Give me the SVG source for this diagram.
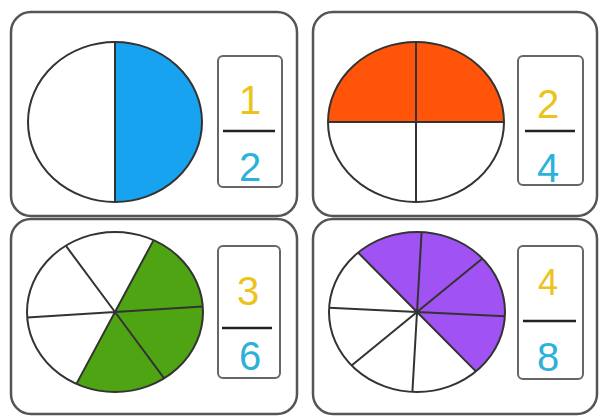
<svg xmlns="http://www.w3.org/2000/svg" width="600" height="416" viewBox="0 0 600 416">
<style>
.panel{fill:#fff;stroke:#555;stroke-width:2.5}
.box{fill:#fff;stroke:#666;stroke-width:2}
.edge{fill:none;stroke:#333;stroke-width:2}
.spoke{stroke:#333;stroke-width:2;fill:none}
.bar{stroke:#222;stroke-width:2.5}
.num{font-family:"Liberation Sans",Arial,sans-serif;font-size:40px;fill:#ecc21c;text-anchor:middle}
.den{font-family:"Liberation Sans",Arial,sans-serif;font-size:40px;fill:#2cb2da;text-anchor:middle}
</style>
<rect width="600" height="416" fill="#fff"/>

<g id="half">
<rect class="panel" x="11" y="12" width="286" height="204" rx="20"/>
<ellipse cx="115" cy="122" rx="87" ry="80" fill="#fff" stroke="none"/>
<path d="M115 42 A87 80 0 0 1 115 202 Z" fill="#17a3f0"/>
<ellipse class="edge" cx="115" cy="122" rx="87" ry="80"/>
<line class="spoke" x1="115" y1="42" x2="115" y2="202" stroke="#1c3f6e"/>
<rect class="box" x="218" y="56" width="64" height="131" rx="5"/>
<line class="bar" x1="223" y1="131" x2="275" y2="131"/>
<text class="num" x="250" y="114">1</text>
<text class="den" x="250" y="181">2</text>
</g>

<g id="quarters">
<rect class="panel" x="313" y="12" width="284" height="204" rx="20"/>
<path d="M328 122 A88 80 0 0 1 504 122 Z" fill="#ff540a"/>
<ellipse class="edge" cx="416" cy="122" rx="88" ry="80"/>
<line class="spoke" x1="328" y1="122" x2="504" y2="122"/>
<line class="spoke" x1="416" y1="42" x2="416" y2="202"/>
<rect class="box" x="518" y="56" width="65" height="129" rx="5"/>
<line class="bar" x1="525" y1="131" x2="575" y2="131"/>
<text class="num" x="548" y="118">2</text>
<text class="den" x="548" y="182">4</text>
</g>

<g id="sixths">
<rect class="panel" x="11" y="219" width="286" height="195" rx="20"/>
<path d="M115 312 L153.6 240.1 A88 80 0 0 1 164.2 378.3 A88 80 0 0 1 76.4 383.9 Z" fill="#4ea412"/>
<ellipse class="edge" cx="115" cy="312" rx="88" ry="80"/>
<path class="spoke" d="M115 312 L202.8 306.4 M115 312 L164.2 378.3 M115 312 L76.4 383.9 M115 312 L27.2 317.6 M115 312 L65.8 245.7 M115 312 L153.6 240.1"/>
<rect class="box" x="218" y="246" width="62" height="132" rx="5"/>
<line class="bar" x1="222" y1="328" x2="272" y2="328"/>
<text class="num" x="248" y="305">3</text>
<text class="den" x="250" y="370">6</text>
</g>

<g id="eighths">
<rect class="panel" x="313" y="219" width="284" height="195" rx="20"/>
<path d="M417 312 L358.1 252.6 A88 80 0 0 1 504.9 316.2 A88 80 0 0 1 475.9 371.4 Z" fill="#a052f2"/>
<ellipse class="edge" cx="417" cy="312" rx="88" ry="80"/>
<path class="spoke" d="M417 312 L358.1 252.6 M417 312 L421.6 232.1 M417 312 L482.4 258.5 M417 312 L504.9 316.2 M417 312 L475.9 371.4 M417 312 L412.4 391.9 M417 312 L351.6 365.5 M417 312 L329.1 307.8"/>
<rect class="box" x="518" y="246" width="65" height="133" rx="5"/>
<line class="bar" x1="523" y1="321" x2="576" y2="321"/>
<text class="num" x="548" y="295" style="font-size:36px">4</text>
<text class="den" x="548" y="371">8</text>
</g>

<g id="connectors"/>
</svg>
